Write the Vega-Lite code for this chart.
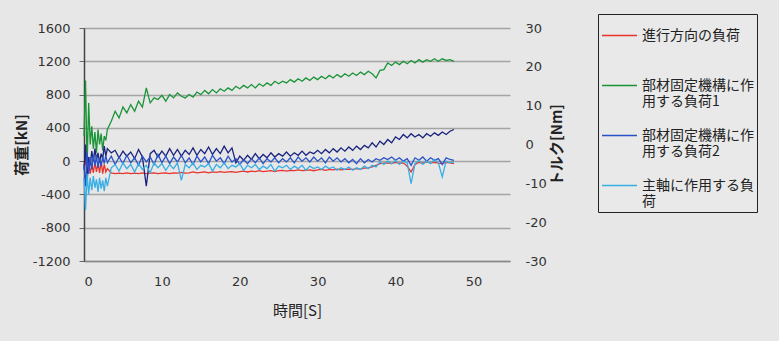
{
"$schema": "https://vega.github.io/schema/vega-lite/v6.json",
"width": 426,
"height": 233,
"autosize": {"type": "none"},
"padding": {"left": 84, "top": 28, "right": 269, "bottom": 80},
"background": "#e7e7e7",
"config": {"view": {"stroke": null}, "font": "DejaVu Sans"},
"data": {"values": [
{"t":0,"R":-50,"G":300,"N":-100,"B":-50,"C":-200},
{"t":0.2,"R":0,"G":970,"N":200,"B":-300,"C":-590},
{"t":0.4,"R":-120,"G":-50,"N":-250,"B":100,"C":-150},
{"t":0.6,"R":-20,"G":700,"N":50,"B":-150,"C":-400},
{"t":0.8,"R":-150,"G":200,"N":-50,"B":50,"C":-200},
{"t":1,"R":-30,"G":420,"N":120,"B":-100,"C":-350},
{"t":1.2,"R":-140,"G":150,"N":0,"B":80,"C":-180},
{"t":1.4,"R":-10,"G":350,"N":150,"B":-50,"C":-320},
{"t":1.6,"R":-130,"G":100,"N":20,"B":60,"C":-220},
{"t":1.8,"R":-20,"G":380,"N":100,"B":-80,"C":-370},
{"t":2,"R":-140,"G":200,"N":-20,"B":40,"C":-200},
{"t":2.2,"R":0,"G":330,"N":90,"B":-60,"C":-330},
{"t":2.4,"R":-150,"G":130,"N":30,"B":50,"C":-230},
{"t":2.6,"R":-40,"G":300,"N":180,"B":-30,"C":-360},
{"t":2.8,"R":-130,"G":250,"N":60,"B":70,"C":-200},
{"t":3,"R":-90,"G":380,"N":150,"B":-20,"C":-300},
{"t":3.5,"R":-140,"G":480,"N":100,"B":60,"C":-80},
{"t":4,"R":-150,"G":600,"N":130,"B":-40,"C":-40},
{"t":4.5,"R":-145,"G":520,"N":40,"B":50,"C":-120},
{"t":5,"R":-150,"G":650,"N":120,"B":-30,"C":-20},
{"t":5.5,"R":-140,"G":580,"N":60,"B":70,"C":-90},
{"t":6,"R":-150,"G":680,"N":110,"B":-20,"C":-40},
{"t":6.5,"R":-145,"G":600,"N":30,"B":40,"C":-130},
{"t":7,"R":-150,"G":720,"N":140,"B":-50,"C":-30},
{"t":7.5,"R":-140,"G":650,"N":50,"B":60,"C":-100},
{"t":8,"R":-150,"G":880,"N":-300,"B":-10,"C":-50},
{"t":8.5,"R":-145,"G":700,"N":90,"B":50,"C":-140},
{"t":9,"R":-140,"G":760,"N":130,"B":-40,"C":-20},
{"t":9.5,"R":-150,"G":740,"N":50,"B":80,"C":-80},
{"t":10,"R":-145,"G":790,"N":120,"B":-20,"C":-30},
{"t":10.5,"R":-140,"G":720,"N":60,"B":60,"C":-110},
{"t":11,"R":-150,"G":800,"N":150,"B":-30,"C":-40},
{"t":11.5,"R":-140,"G":760,"N":70,"B":50,"C":-90},
{"t":12,"R":-145,"G":820,"N":140,"B":-10,"C":-20},
{"t":12.5,"R":-135,"G":780,"N":60,"B":70,"C":-230},
{"t":13,"R":-145,"G":760,"N":130,"B":-20,"C":-40},
{"t":13.5,"R":-140,"G":800,"N":80,"B":40,"C":-80},
{"t":14,"R":-130,"G":770,"N":160,"B":-40,"C":-20},
{"t":14.5,"R":-140,"G":830,"N":70,"B":60,"C":-100},
{"t":15,"R":-135,"G":800,"N":140,"B":-10,"C":-50},
{"t":15.5,"R":-130,"G":850,"N":90,"B":50,"C":-70},
{"t":16,"R":-140,"G":810,"N":170,"B":-30,"C":-30},
{"t":16.5,"R":-130,"G":860,"N":80,"B":70,"C":-120},
{"t":17,"R":-135,"G":820,"N":150,"B":0,"C":-40},
{"t":17.5,"R":-125,"G":870,"N":90,"B":40,"C":-80},
{"t":18,"R":-135,"G":840,"N":180,"B":-30,"C":-20},
{"t":18.5,"R":-130,"G":880,"N":100,"B":60,"C":-90},
{"t":19,"R":-125,"G":850,"N":160,"B":-10,"C":-50},
{"t":19.5,"R":-135,"G":900,"N":-20,"B":30,"C":-70},
{"t":20,"R":-125,"G":870,"N":60,"B":-40,"C":-30},
{"t":20.5,"R":-120,"G":910,"N":10,"B":20,"C":-110},
{"t":21,"R":-130,"G":880,"N":70,"B":-30,"C":-50},
{"t":21.5,"R":-120,"G":920,"N":20,"B":30,"C":-80},
{"t":22,"R":-125,"G":880,"N":90,"B":-20,"C":-40},
{"t":22.5,"R":-115,"G":930,"N":30,"B":40,"C":-100},
{"t":23,"R":-125,"G":900,"N":80,"B":-30,"C":-60},
{"t":23.5,"R":-120,"G":940,"N":40,"B":30,"C":-90},
{"t":24,"R":-115,"G":910,"N":100,"B":-10,"C":-40},
{"t":24.5,"R":-125,"G":960,"N":50,"B":40,"C":-120},
{"t":25,"R":-115,"G":930,"N":90,"B":-20,"C":-60},
{"t":25.5,"R":-110,"G":960,"N":60,"B":30,"C":-80},
{"t":26,"R":-120,"G":940,"N":110,"B":-10,"C":-50},
{"t":26.5,"R":-110,"G":980,"N":60,"B":40,"C":-100},
{"t":27,"R":-115,"G":950,"N":100,"B":-20,"C":-60},
{"t":27.5,"R":-105,"G":990,"N":70,"B":50,"C":-90},
{"t":28,"R":-115,"G":960,"N":120,"B":0,"C":-50},
{"t":28.5,"R":-110,"G":1000,"N":70,"B":40,"C":-110},
{"t":29,"R":-105,"G":970,"N":110,"B":-10,"C":-60},
{"t":29.5,"R":-115,"G":1010,"N":90,"B":50,"C":-90},
{"t":30,"R":-105,"G":980,"N":130,"B":0,"C":-70},
{"t":30.5,"R":-100,"G":1020,"N":90,"B":40,"C":-100},
{"t":31,"R":-110,"G":990,"N":140,"B":-20,"C":-60},
{"t":31.5,"R":-100,"G":1030,"N":100,"B":50,"C":-90},
{"t":32,"R":-105,"G":1000,"N":150,"B":0,"C":-70},
{"t":32.5,"R":-95,"G":1040,"N":110,"B":40,"C":-110},
{"t":33,"R":-105,"G":1010,"N":160,"B":-10,"C":-80},
{"t":33.5,"R":-100,"G":1050,"N":120,"B":30,"C":-100},
{"t":34,"R":-95,"G":1020,"N":170,"B":-20,"C":-70},
{"t":34.5,"R":-100,"G":1060,"N":130,"B":20,"C":-110},
{"t":35,"R":-90,"G":1030,"N":180,"B":-30,"C":-80},
{"t":35.5,"R":-95,"G":1070,"N":140,"B":30,"C":-100},
{"t":36,"R":-85,"G":1040,"N":190,"B":-20,"C":-60},
{"t":36.5,"R":-80,"G":1080,"N":160,"B":20,"C":-90},
{"t":37,"R":-70,"G":1050,"N":220,"B":-10,"C":-50},
{"t":37.5,"R":-50,"G":1000,"N":170,"B":30,"C":-70},
{"t":38,"R":-30,"G":1090,"N":240,"B":10,"C":-10},
{"t":38.5,"R":-25,"G":1100,"N":200,"B":40,"C":-40},
{"t":39,"R":-20,"G":1180,"N":260,"B":20,"C":0},
{"t":39.5,"R":-30,"G":1150,"N":220,"B":50,"C":-30},
{"t":40,"R":-15,"G":1190,"N":290,"B":10,"C":10},
{"t":40.5,"R":-25,"G":1160,"N":260,"B":40,"C":-40},
{"t":41,"R":-20,"G":1200,"N":320,"B":0,"C":0},
{"t":41.5,"R":-60,"G":1170,"N":280,"B":30,"C":-20},
{"t":42,"R":-130,"G":1210,"N":330,"B":-50,"C":-270},
{"t":42.5,"R":-40,"G":1180,"N":290,"B":40,"C":-30},
{"t":43,"R":-15,"G":1220,"N":320,"B":10,"C":10},
{"t":43.5,"R":-25,"G":1190,"N":280,"B":50,"C":-40},
{"t":44,"R":-10,"G":1220,"N":330,"B":0,"C":0},
{"t":44.5,"R":-20,"G":1200,"N":300,"B":40,"C":-30},
{"t":45,"R":-15,"G":1230,"N":340,"B":10,"C":20},
{"t":45.5,"R":-25,"G":1200,"N":310,"B":30,"C":-20},
{"t":46,"R":-30,"G":1230,"N":350,"B":-40,"C":-190},
{"t":46.5,"R":-15,"G":1210,"N":320,"B":40,"C":0},
{"t":47,"R":-20,"G":1220,"N":360,"B":20,"C":-20},
{"t":47.5,"R":-30,"G":1200,"N":380,"B":10,"C":-10}
]},
"layer": [
  {
    "transform": [{"fold": ["R", "G", "N", "B", "C"], "as": ["s", "v"]}],
    "mark": {"type": "line", "strokeWidth": 1.3},
    "encoding": {
      "x": {"field": "t", "type": "quantitative", "scale": {"domain": [0, 54.7], "nice": false},
        "axis": {"title": "時間[S]", "values": [0, 10, 20, 30, 40, 50], "labelExpr": "'' + datum.value", "labelOverlap": false, "grid": false, "domainColor": "#888888", "domainWidth": 1.5, "tickSize": 0, "labelPadding": 14, "labelFontSize": 13, "labelColor": "#333333", "labelFont": "DejaVu Sans", "titleFont": "Noto Sans CJK JP", "titleFontSize": 15, "titleFontWeight": "normal", "titleColor": "#222222", "titlePadding": 15}},
      "y": {"field": "v", "type": "quantitative", "scale": {"domain": [-1200, 1600], "nice": false},
        "axis": {"title": "荷重[kN]", "values": [-1200, -800, -400, 0, 400, 800, 1200, 1600], "labelExpr": "'' + datum.value", "labelOverlap": false, "grid": true, "gridColor": "#a4a4a4", "gridWidth": 1.5, "domainColor": "#444444", "domainWidth": 1.5, "tickSize": 5, "tickColor": "#666666", "labelPadding": 9, "labelFontSize": 13, "labelColor": "#333333", "labelFont": "DejaVu Sans", "titleFont": "Noto Sans CJK JP", "titleFontSize": 15, "titleFontWeight": "bold", "titleColor": "#222222", "titlePadding": 3}},
      "color": {"field": "s", "type": "nominal",
        "scale": {"domain": ["R", "G", "N", "B", "C"], "range": ["#e8342c", "#1b9438", "#1a237e", "#2a52c8", "#38aee6"]},
        "legend": {"values": ["R", "G", "B", "C"], "orient": "none", "legendX": 514, "legendY": -14, "title": null, "strokeColor": "#222222", "fillColor": "#e9e9e9", "padding": 3,
          "symbolType": "stroke", "symbolSize": 1225, "symbolStrokeWidth": 1.5, "labelOffset": 4, "rowPadding": 8,
          "labelFont": "Noto Sans CJK JP", "labelFontSize": 14, "labelColor": "#222222", "labelLimit": 300, "labelBaseline": "middle",
          "labelExpr": "datum.value == 'R' ? ['進行方向の負荷', ' '] : datum.value == 'G' ? ['部材固定機構に作', '用する負荷1'] : datum.value == 'B' ? ['部材固定機構に作', '用する負荷2'] : ['主軸に作用する負', '荷']"}}
    }
  },
  {
    "data": {"values": [{"t": 0, "y": 0}]},
    "mark": {"type": "point", "opacity": 0},
    "encoding": {
      "x": {"field": "t", "type": "quantitative", "scale": {"domain": [0, 54.7], "nice": false}},
      "y": {"field": "y", "type": "quantitative", "scale": {"domain": [-30, 30], "nice": false},
        "axis": {"orient": "right", "title": "トルク[Nm]", "values": [-30, -20, -10, 0, 10, 20, 30], "labelExpr": "'' + datum.value", "labelOverlap": false, "grid": false, "domain": false, "ticks": false, "labelPadding": 15, "labelFontSize": 13, "labelColor": "#333333", "labelFont": "DejaVu Sans", "titleFont": "Noto Sans CJK JP", "titleFontSize": 15, "titleFontWeight": "bold", "titleColor": "#222222", "titlePadding": 3, "titleAngle": 270, "titleBaseline": "top"}}
    }
  }
],
"resolve": {"scale": {"y": "independent"}}
}
